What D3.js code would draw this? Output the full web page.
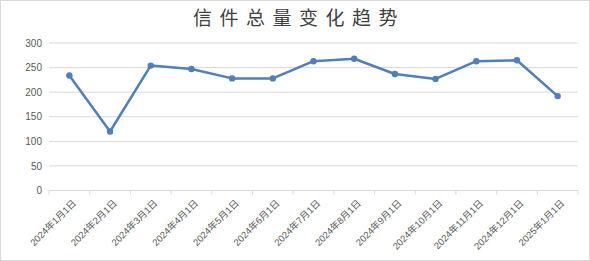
<!DOCTYPE html>
<html>
<head>
<meta charset="utf-8">
<script src="https://cdn.jsdelivr.net/npm/d3@7"></script>
<style>
  body { margin: 0; background: #fff; }
  svg { display: block; font-family: "Liberation Sans", "Noto Sans CJK SC", sans-serif; }
</style>
</head>
<body>
<svg id="chart"></svg>
<script>
// chart data
const categories = [
  "2024年1月1日", "2024年2月1日", "2024年3月1日", "2024年4月1日",
  "2024年5月1日", "2024年6月1日", "2024年7月1日", "2024年8月1日",
  "2024年9月1日", "2024年10月1日", "2024年11月1日", "2024年12月1日",
  "2025年1月1日"
];
const values = [234, 120, 254, 247, 228, 228, 263, 268, 237, 227, 263, 265, 192];
const yTicks = [0, 50, 100, 150, 200, 250, 300];
const title = "信件总量变化趋势";

const width = 590, height = 261;
const margin = { top: 43, right: 12, bottom: 70.5, left: 49 };
const innerW = width - margin.left - margin.right;
const innerH = height - margin.top - margin.bottom;

const svg = d3.select("#chart").attr("width", width).attr("height", height);

// outer border like the spreadsheet chart area
svg.append("rect")
  .attr("x", 0.5).attr("y", 0.5)
  .attr("width", width - 1).attr("height", height - 1)
  .attr("fill", "#fff").attr("stroke", "#d9d9d9");

svg.append("text")
  .attr("x", width / 2 + 4)
  .attr("y", 25)
  .attr("text-anchor", "middle")
  .attr("font-family", "'Noto Sans CJK SC', sans-serif")
  .attr("font-size", 19)
  .attr("letter-spacing", 7.5)
  .attr("fill", "#404040")
  .text(title);

const chart = svg.append("g")
  .attr("transform", `translate(${margin.left},${margin.top})`);

const xScale = d3.scaleBand().domain(categories).range([0, innerW]);
const yScale = d3.scaleLinear().domain([0, 300]).range([innerH, 0]);

// horizontal gridlines
chart.append("g")
  .selectAll("line")
  .data(yTicks.filter(d => d > 0))
  .join("line")
  .attr("x1", 0).attr("x2", innerW)
  .attr("y1", d => yScale(d)).attr("y2", d => yScale(d))
  .attr("stroke", "#d9d9d9").attr("stroke-width", 1);

// y axis labels
const yAxis = d3.axisLeft(yScale).tickValues(yTicks).tickSize(0).tickPadding(7);
const yAxisG = chart.append("g").call(yAxis);
yAxisG.select(".domain").remove();
yAxisG.selectAll("text").attr("font-size", 10).attr("fill", "#595959")
  .attr("font-family", "'Liberation Sans', sans-serif");

// x axis line with ticks at band edges
const xAxisG = chart.append("g").attr("transform", `translate(0,${innerH})`);
xAxisG.append("line")
  .attr("x1", 0).attr("x2", innerW)
  .attr("stroke", "#d9d9d9");
xAxisG.selectAll(".edge")
  .data(d3.range(categories.length + 1))
  .join("line")
  .attr("class", "edge")
  .attr("x1", i => i * xScale.bandwidth()).attr("x2", i => i * xScale.bandwidth())
  .attr("y1", 0).attr("y2", 4)
  .attr("stroke", "#d9d9d9");

xAxisG.selectAll(".xl")
  .data(categories)
  .join("text")
  .attr("class", "xl")
  .attr("transform", d => `translate(${xScale(d) + xScale.bandwidth() / 2 + 5},${11}) rotate(-45)`)
  .attr("text-anchor", "end")
  .attr("dy", "0.35em")
  .attr("font-size", 9.5)
  .attr("font-family", "'Liberation Sans', 'Noto Sans CJK SC', sans-serif")
  .attr("fill", "#595959")
  .text(d => d);

// line + markers
const cx = (d, i) => xScale(categories[i]) + xScale.bandwidth() / 2;
const line = d3.line()
  .x((d, i) => cx(d, i))
  .y(d => yScale(d));

chart.append("path")
  .datum(values)
  .attr("fill", "none")
  .attr("stroke", "#4f7fbc")
  .attr("stroke-width", 2.5)
  .attr("stroke-linejoin", "round")
  .attr("d", line);

chart.selectAll(".dot")
  .data(values)
  .join("circle")
  .attr("class", "dot")
  .attr("cx", (d, i) => cx(d, i))
  .attr("cy", d => yScale(d))
  .attr("r", 3.2)
  .attr("fill", "#4f7fbc");
</script>
</body>
</html>
